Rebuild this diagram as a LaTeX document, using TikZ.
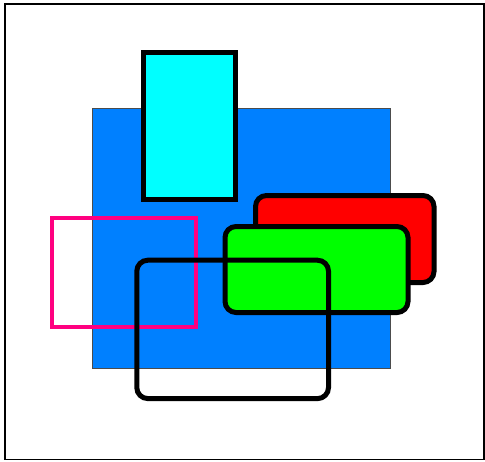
\documentclass[tikz,border=0pt]{standalone}
\usepackage{xcolor}
\usepackage{tikz}
\definecolor{paneBlue}{HTML}{0080FF}
\definecolor{paneCyan}{HTML}{00FFFF}
\definecolor{panePink}{HTML}{FF0080}
\definecolor{paneRed}{HTML}{FF0000}
\definecolor{paneGreen}{HTML}{00FF00}

\begin{document}
\begin{tikzpicture}[
  x=1pt, y=-1pt,
  frame/.style={draw=black,line width=1.5pt},
  base/.style={draw=black!70,line width=0.6pt,fill=paneBlue},
  tower/.style={draw=black,line width=5pt,fill=paneCyan},
  outline/.style={draw=panePink,line width=4.5pt},
  tab/.style={draw=black,line width=5pt,rounded corners=11pt},
  redtab/.style={tab,fill=paneRed},
  greentab/.style={tab,fill=paneGreen}
]
\useasboundingbox (0,0) rectangle (485,461);
% frame
\draw[frame] (5,4) rectangle (484,459.5);

% panes, back to front
\draw[base] (92.7,108) rectangle (390,368.7);
\draw[tower] (143.5,52.5) rectangle (235,199.5);
\draw[outline] (52.2,217.8) rectangle (196,326.8);
\draw[redtab] (255.5,195.5) rectangle (434,282.5);
\draw[greentab] (225,226.5) rectangle (408,312.5);
\draw[tab] (136.8,260.2) rectangle (328.5,398.6);
\end{tikzpicture}
\end{document}
